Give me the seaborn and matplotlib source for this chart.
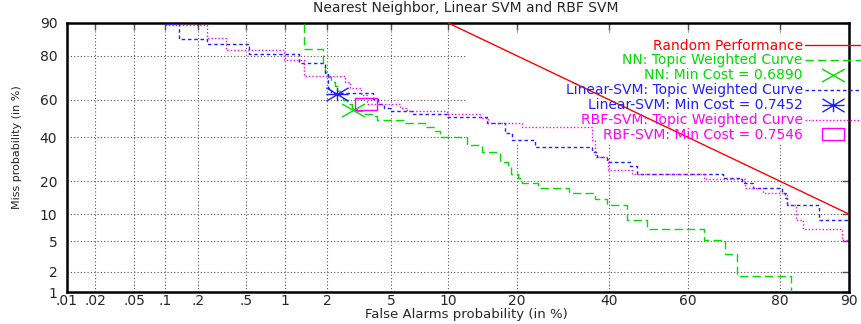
import math
import numpy as np
import pandas as pd
import matplotlib
matplotlib.use("Agg")
import matplotlib.pyplot as plt
from matplotlib.path import Path
from matplotlib.patches import Rectangle
import seaborn as sns

# ---------------- data ----------------
x_ticks = [0.01, 0.02, 0.05, 0.1, 0.2, 0.5, 1, 2, 5, 10, 20, 40, 60, 80, 90]
x_tick_labels = ['.01', '.02', '.05', '.1', '.2', '.5', '1', '2', '5', '10', '20', '40', '60', '80', '90']
y_ticks = [1, 2, 5, 10, 20, 40, 60, 80, 90]
y_tick_labels = ['1', '2', '5', '10', '20', '40', '60', '80', '90']

random_fa = [10, 90]
random_miss = [90, 10]

nn_fa = [1.0, 1.38, 1.87, 1.93, 2.02, 2.11, 2.25, 2.35, 2.43, 2.54, 2.69, 2.89, 3.11, 3.48,
         3.84, 4.12, 5.96, 7.64, 8.59, 9.1, 12.3, 14.3, 17.1, 18.4, 18.9, 20.2, 20.9, 24.0,
         30.5, 36.6, 39.5, 44.5, 49.6, 63.8, 68.7, 71.4, 81.9]
nn_miss = [95, 82.4, 77.1, 73.3, 71.1, 68.8, 66.8, 64.4, 61.8, 59.8, 57.7, 55.6, 54.0, 52.4,
           51.3, 49.2, 47.6, 45.5, 43.3, 40.2, 36.1, 32.7, 28.0, 25.8, 22.8, 21.2, 19.3, 17.6,
           15.9, 14.0, 12.3, 8.7, 6.9, 5.2, 3.46, 1.73, 0.5]

lin_fa = [0.1, 0.134, 0.237, 0.531, 1.27, 1.93, 2.02, 2.11, 3.90, 4.18, 4.53, 4.91, 6.52,
          9.88, 15.1, 17.9, 19.1, 23.4, 35.9, 37.1, 39.5, 45.3, 47.1, 68.3, 72.5, 74.8,
          80.3, 80.8, 81.2, 86.2, 95]
lin_miss = [89.7, 85.8, 84.1, 80.6, 77.1, 72.9, 65.9, 63.4, 60.3, 57.7, 55.6, 54.0, 52.4,
            50.8, 47.6, 42.3, 38.7, 35.1, 32.7, 30.3, 28.0, 26.2, 22.8, 21.2, 19.3, 17.6,
            15.9, 14.3, 12.3, 8.7, 8.7]

rbf_fa = [0.1, 0.237, 0.345, 0.985, 1.38, 2.61, 2.81, 3.30, 3.59, 5.59, 6.12, 9.88, 14.05,
          15.2, 20.9, 35.9, 36.6, 39.7, 45.8, 63.8, 73.1, 76.8, 81.2, 82.7, 83.8, 89.2, 95]
rbf_miss = [89.5, 86.0, 82.2, 78.5, 71.7, 68.9, 65.9, 62.4, 57.7, 55.6, 54.1, 52.4, 50.2,
            47.6, 45.5, 38.7, 30.3, 24.5, 22.8, 20.9, 17.6, 15.9, 12.3, 8.7, 6.9, 5.2, 5.2]

nn_min = (2.94, 54.5)
lin_min = (2.31, 62.9)
rbf_min = (3.56, 57.7)

labels = ['Random Performance',
          'NN: Topic Weighted Curve', 'NN: Min Cost = 0.6890',
          'Linear-SVM: Topic Weighted Curve', 'Linear-SVM: Min Cost = 0.7452',
          'RBF-SVM: Topic Weighted Curve', 'RBF-SVM: Min Cost = 0.7546']

title = 'Nearest Neighbor, Linear SVM and RBF SVM'
xlabel = 'False Alarms probability (in %)'
ylabel = 'Miss probability (in %)'

RED, GREEN, BLUE, MAG = '#ff0000', '#00dd00', '#2020ff', '#ff00ff'


# ---------------- probit (normal deviate) scale ----------------
_a = [-3.969683028665376e+01, 2.209460984245205e+02, -2.759285104469687e+02,
      1.383577518672690e+02, -3.066479806614716e+01, 2.506628277459239e+00]
_b = [-5.447609879822406e+01, 1.615858368580409e+02, -1.556989798598866e+02,
      6.680131188771972e+01, -1.328068155288572e+01]
_c = [-7.784894002430293e-03, -3.223964580411365e-01, -2.400758277161838e+00,
      -2.549732539343734e+00, 4.374664141464968e+00, 2.938163982698783e+00]
_d = [7.784695709041462e-03, 3.224671290700398e-01, 2.445134137142996e+00,
      3.754408661907416e+00]


def _ppf(p):
    p = np.asarray(p, dtype=float)
    shape = p.shape
    p = np.clip(np.atleast_1d(p).ravel(), 1e-12, 1 - 1e-12)
    out = np.full_like(p, np.nan)
    lo = p < 0.02425
    hi = p > 1 - 0.02425
    mid = ~(lo | hi) & np.isfinite(p)
    q = np.sqrt(-2 * np.log(p[lo]))
    out[lo] = (((((_c[0]*q+_c[1])*q+_c[2])*q+_c[3])*q+_c[4])*q+_c[5]) / \
              ((((_d[0]*q+_d[1])*q+_d[2])*q+_d[3])*q+1)
    q = np.sqrt(-2 * np.log(1 - p[hi]))
    out[hi] = -(((((_c[0]*q+_c[1])*q+_c[2])*q+_c[3])*q+_c[4])*q+_c[5]) / \
              ((((_d[0]*q+_d[1])*q+_d[2])*q+_d[3])*q+1)
    q = p[mid] - 0.5
    r = q * q
    out[mid] = (((((_a[0]*r+_a[1])*r+_a[2])*r+_a[3])*r+_a[4])*r+_a[5])*q / \
               (((((_b[0]*r+_b[1])*r+_b[2])*r+_b[3])*r+_b[4])*r+1)
    return out.reshape(shape)


_erf = np.vectorize(math.erf, otypes=[float])


def fwd(x):
    return _ppf(np.asarray(x, dtype=float) / 100.0)


def inv(z):
    z = np.asarray(z, dtype=float)
    return 50.0 * (1.0 + _erf(z / math.sqrt(2.0)))


# ---------------- markers ----------------
def cross_marker(h=0.57):
    return Path([(-1, -h), (1, h), (-1, h), (1, -h)],
                [Path.MOVETO, Path.LINETO, Path.MOVETO, Path.LINETO])


def star_marker(h=0.6):
    return Path([(-1, 0), (1, 0), (0, -h), (0, h), (-1, -h), (1, h), (-1, h), (1, -h)],
                [Path.MOVETO, Path.LINETO] * 4)


def rect_marker(h=0.52):
    return Path([(-1, -h), (1, -h), (1, h), (-1, h), (-1, -h)],
                [Path.MOVETO, Path.LINETO, Path.LINETO, Path.LINETO, Path.CLOSEPOLY])


# ---------------- figure ----------------
sns.set_style("white")
plt.rcParams['font.family'] = ['DejaVu Sans']
FS = 10

fig = plt.figure(figsize=(8.61, 3.24), dpi=100)
ax = fig.add_axes([67 / 861, 32 / 324, 782 / 861, 269 / 324])
ax.set_xscale('function', functions=(fwd, inv))
ax.set_yscale('function', functions=(fwd, inv))
ax.set_xlim(0.01, 90)
ax.set_ylim(1, 90)
ax.set_axisbelow(True)

# opaque key area (hides grid behind key)
ax.add_patch(Rectangle((0.5115, 0.554), 0.49, 0.41, transform=ax.transAxes,
                       facecolor='white', edgecolor='none', zorder=1))

df_rand = pd.DataFrame({'fa': random_fa, 'miss': random_miss})
df_nn = pd.DataFrame({'fa': nn_fa, 'miss': nn_miss})
df_lin = pd.DataFrame({'fa': lin_fa, 'miss': lin_miss})
df_rbf = pd.DataFrame({'fa': rbf_fa, 'miss': rbf_miss})

sns.lineplot(data=df_rand, x='fa', y='miss', ax=ax, color=RED, lw=1.0,
             estimator=None, sort=False, zorder=3, label=labels[0])
sns.lineplot(data=df_nn, x='fa', y='miss', ax=ax, color=GREEN, lw=1.0,
             estimator=None, sort=False, drawstyle='steps-post', dashes=(6, 3),
             zorder=3, label=labels[1])
sns.lineplot(data=df_lin, x='fa', y='miss', ax=ax, color=BLUE, lw=1.0,
             estimator=None, sort=False, drawstyle='steps-post', dashes=(2.5, 2),
             zorder=3, label=labels[3])
sns.lineplot(data=df_rbf, x='fa', y='miss', ax=ax, color=MAG, lw=1.0,
             estimator=None, sort=False, drawstyle='steps-post', dashes=(1, 1.5),
             zorder=3, label=labels[5])

ax.plot([nn_min[0]], [nn_min[1]], ls='none', marker=cross_marker(), ms=16.5,
        mec=GREEN, mfc='none', mew=1.0, color=GREEN, zorder=4, label=labels[2])
ax.plot([lin_min[0]], [lin_min[1]], ls='none', marker=star_marker(), ms=16,
        mec=BLUE, mfc='none', mew=1.0, color=BLUE, zorder=4, label=labels[4])
ax.plot([rbf_min[0]], [rbf_min[1]], ls='none', marker=rect_marker(), ms=16.5,
        mec=MAG, mfc='none', mew=1.0, color=MAG, zorder=4, label=labels[6])

handles, lbls = ax.get_legend_handles_labels()
hmap = dict(zip(lbls, handles))
ordered = [hmap[l] for l in labels]
leg = ax.legend(ordered, labels, loc='upper right', bbox_to_anchor=(1.0, 1 - 38.5 / 324),
                bbox_transform=fig.transFigure, markerfirst=False, frameon=False,
                handlelength=4.0, handletextpad=0.2, labelspacing=0.07, borderpad=0,
                borderaxespad=0, fontsize=FS, labelcolor='linecolor')

# ticks & grid
ax.set_xticks(x_ticks)
ax.set_xticklabels(x_tick_labels)
ax.set_yticks(y_ticks)
ax.set_yticklabels(y_tick_labels)
ax.minorticks_off()
ax.tick_params(axis='both', which='major', direction='in', length=5, width=1,
               top=True, right=True, labelsize=FS, color='#555555')
ax.tick_params(axis='x', pad=1.5)
ax.tick_params(axis='y', pad=7)
ax.grid(True, which='major', color='#555555', linestyle=(0, (1, 2)), linewidth=0.8)
for s in ax.spines.values():
    s.set_visible(True)
    s.set_color('black')
    s.set_linewidth(1.8)

fig.text(466 / 861, 1 - 8 / 324, title, fontsize=FS, ha='center', va='center')
ax.set_xlabel(xlabel, fontsize=9.5)
ax.xaxis.set_label_coords((466 - 67) / 782, (292 - 308) / 269)
ax.set_ylabel(ylabel, fontsize=8)
ax.yaxis.set_label_coords(-45 / 782, (292 - 147) / 269)

fig.savefig('out.png', dpi=100)
